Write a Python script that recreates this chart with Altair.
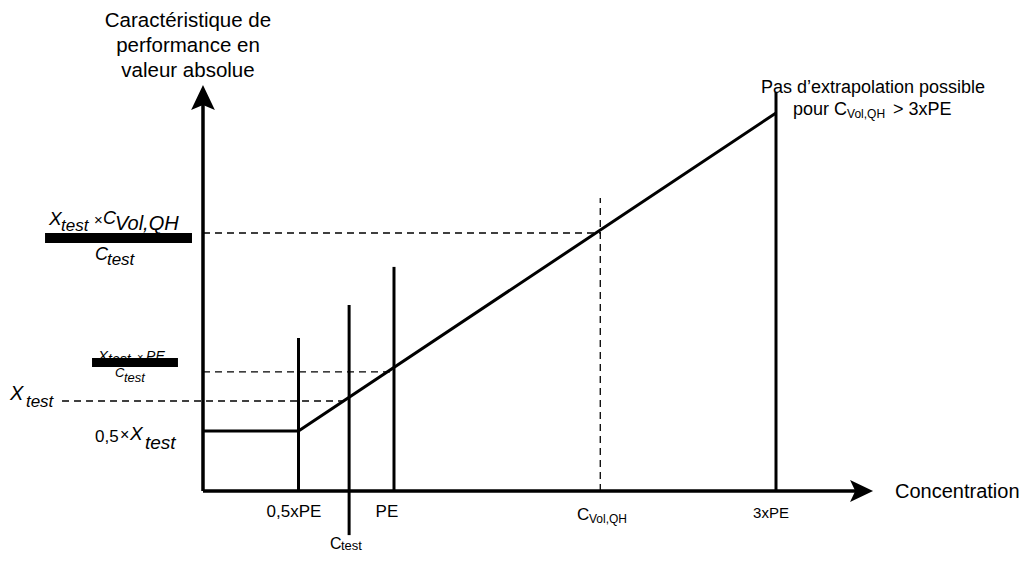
import altair as alt
import pandas as pd

# ---- schematic values (concentration in multiples of PE, performance in arbitrary units)
conc_names = ["0,5xPE", "C_test", "PE", "C_Vol,QH", "3xPE"]
conc_values = [0.5, 0.765, 1.0, 2.08, 3.0]
level_names = ["0,5 x X_test", "X_test", "X_test x PE / C_test", "X_test x C_Vol,QH / C_test", "top"]
level_values = [2.0, 3.0, 3.97, 8.6, 12.6]

# performance characteristic curve
curve_x = [0.0, 0.5, 3.0]
curve_y = [2.0, 2.0, 12.6]

# solid vertical markers (x, bottom, top)
vert_x = [0.5, 0.765, 1.0, 3.0]
vert_y0 = [0.0, -1.47, 0.0, 0.0]
vert_y1 = [5.1, 6.2, 7.47, 13.3]

# dashed guides
dash_x = [2.08, 0.0, 0.0, -0.738]
dash_x2 = [2.08, 2.08, 1.0, 0.765]
dash_y = [0.0, 8.6, 3.97, 3.0]
dash_y2 = [9.77, 8.6, 3.97, 3.0]

# axes
axis_x = [0.0, 0.0]
axis_x2 = [0.0, 3.42]
axis_y = [0.0, 0.0]
axis_y2 = [12.9, 0.0]

# fraction bars
bar_x = [-0.827, -0.581]
bar_x2 = [-0.0576, -0.131]
bar_y = [8.267, 4.133]
bar_y2 = [8.6, 4.433]

# text pieces
norm_left_text = ["Concentration", "pour C", "Vol,QH", "> 3xPE", "C", "Vol,QH", "C", "test",
                  "\u00d7", "\u00d7", "0,5", "\u00d7"]
norm_left_x = [3.623, 3.089, 3.372, 3.613, 1.958, 2.021, 0.665, 0.7225,
               -0.571, -0.346, -0.565, -0.435]
norm_left_y = [-0.233, 12.533, 12.433, 12.533, -0.967, -1.067, -1.933, -1.967,
               8.867, 4.333, 1.633, 1.7]
norm_left_size = [20, 18, 12, 18, 17, 12, 16, 13, 15, 11, 17, 16]

norm_center_text = ["Pas d\u2019extrapolation possible", "0,5xPE", "PE", "3xPE"]
norm_center_x = [3.508, 0.476, 0.963, 2.974]
norm_center_y = [13.267, -0.867, -0.867, -0.9]
norm_center_size = [18, 17, 17, 15]

ital_text = ["X", "test", "C", "Vol,QH", "C", "test",
             "X", "test", "PE", "C", "test",
             "X", "test", "X", "test"]
ital_x = [-0.806, -0.743, -0.524, -0.461, -0.565, -0.503,
          -0.550, -0.497, -0.298, -0.461, -0.414,
          -1.010, -0.927, -0.382, -0.304]
ital_y = [8.867, 8.667, 8.9, 8.7, 7.7, 7.533,
          4.333, 4.233, 4.333, 3.8, 3.633,
          3.033, 2.8, 1.7, 1.4]
ital_size = [19, 17, 18, 20, 18, 17,
             15, 14, 14, 13, 13,
             20, 17, 19, 19]

title_text = "Caract\u00e9ristique de\nperformance en\nvaleur absolue"
title_x = -0.0785
title_y = 15.467

FONT = "Liberation Sans"
xs = alt.Scale(domain=[-1.0209, 4.2775], nice=False, zero=False)
ys = alt.Scale(domain=[-2.1, 16.1], nice=False, zero=False)

def X(f="x"):
    return alt.X(f"{f}:Q", scale=xs, axis=None)

def Y(f="y"):
    return alt.Y(f"{f}:Q", scale=ys, axis=None)

curve_df = pd.DataFrame({"x": curve_x, "y": curve_y, "o": list(range(len(curve_x)))})
vert_df = pd.DataFrame({"x": vert_x, "y": vert_y0, "y2": vert_y1})
dash_df = pd.DataFrame({"x": dash_x, "x2": dash_x2, "y": dash_y, "y2": dash_y2})
axis_df = pd.DataFrame({"x": axis_x, "x2": axis_x2, "y": axis_y, "y2": axis_y2})
bar_df = pd.DataFrame({"x": bar_x, "x2": bar_x2, "y": bar_y, "y2": bar_y2})
nl_df = pd.DataFrame({"x": norm_left_x, "y": norm_left_y, "t": norm_left_text, "s": norm_left_size})
nc_df = pd.DataFrame({"x": norm_center_x, "y": norm_center_y, "t": norm_center_text, "s": norm_center_size})
it_df = pd.DataFrame({"x": ital_x, "y": ital_y, "t": ital_text, "s": ital_size})
title_df = pd.DataFrame({"x": [title_x], "y": [title_y], "t": [title_text]})
arrow_up_df = pd.DataFrame({"x": [0.0], "y": [13.12]})
arrow_right_df = pd.DataFrame({"x": [3.448], "y": [0.0]})

axes = alt.Chart(axis_df).mark_rule(color="black", strokeWidth=3.5).encode(
    x=X(), x2="x2:Q", y=Y(), y2="y2:Q")
arrow_up = alt.Chart(arrow_up_df).mark_point(
    shape="M0,-1L0.95,1L0,0.6L-0.95,1Z", size=625, filled=True, color="black", opacity=1
).encode(x=X(), y=Y())
arrow_right = alt.Chart(arrow_right_df).mark_point(
    shape="M1,0L-1,-0.95L-0.55,0L-1,0.95Z", size=529, filled=True, color="black", opacity=1
).encode(x=X(), y=Y())
verts = alt.Chart(vert_df).mark_rule(color="black", strokeWidth=3).encode(
    x=X(), y=Y(), y2="y2:Q")
dashes = alt.Chart(dash_df).mark_rule(color="black", strokeWidth=1.3, strokeDash=[7, 5]).encode(
    x=X(), x2="x2:Q", y=Y(), y2="y2:Q")
curve = alt.Chart(curve_df).mark_line(color="black", strokeWidth=3, strokeJoin="miter").encode(
    x=X(), y=Y(), order="o:O")

nl = alt.Chart(nl_df).mark_text(align="left", baseline="alphabetic", font=FONT, color="black").encode(
    x=X(), y=Y(), text="t:N", size=alt.Size("s:Q", scale=None))
nc = alt.Chart(nc_df).mark_text(align="center", baseline="alphabetic", font=FONT, color="black").encode(
    x=X(), y=Y(), text="t:N", size=alt.Size("s:Q", scale=None))
it = alt.Chart(it_df).mark_text(align="left", baseline="alphabetic", font=FONT, fontStyle="italic",
                                color="black").encode(
    x=X(), y=Y(), text="t:N", size=alt.Size("s:Q", scale=None))
title = alt.Chart(title_df).mark_text(align="center", baseline="alphabetic", font=FONT, fontSize=20.5,
                                      lineBreak="\n", lineHeight=25, color="black").encode(
    x=X(), y=Y(), text="t:N")
bars = alt.Chart(bar_df).mark_rect(color="black").encode(x=X(), x2="x2:Q", y=Y(), y2="y2:Q")

chart = alt.layer(
    dashes, verts, curve, axes, arrow_up, arrow_right, nl, nc, it, title, bars
).properties(width=1012, height=546, padding=0, autosize="none", background="white"
).configure_view(stroke=None)

chart.save("out.html", embed_options={"renderer": "svg", "actions": False})
